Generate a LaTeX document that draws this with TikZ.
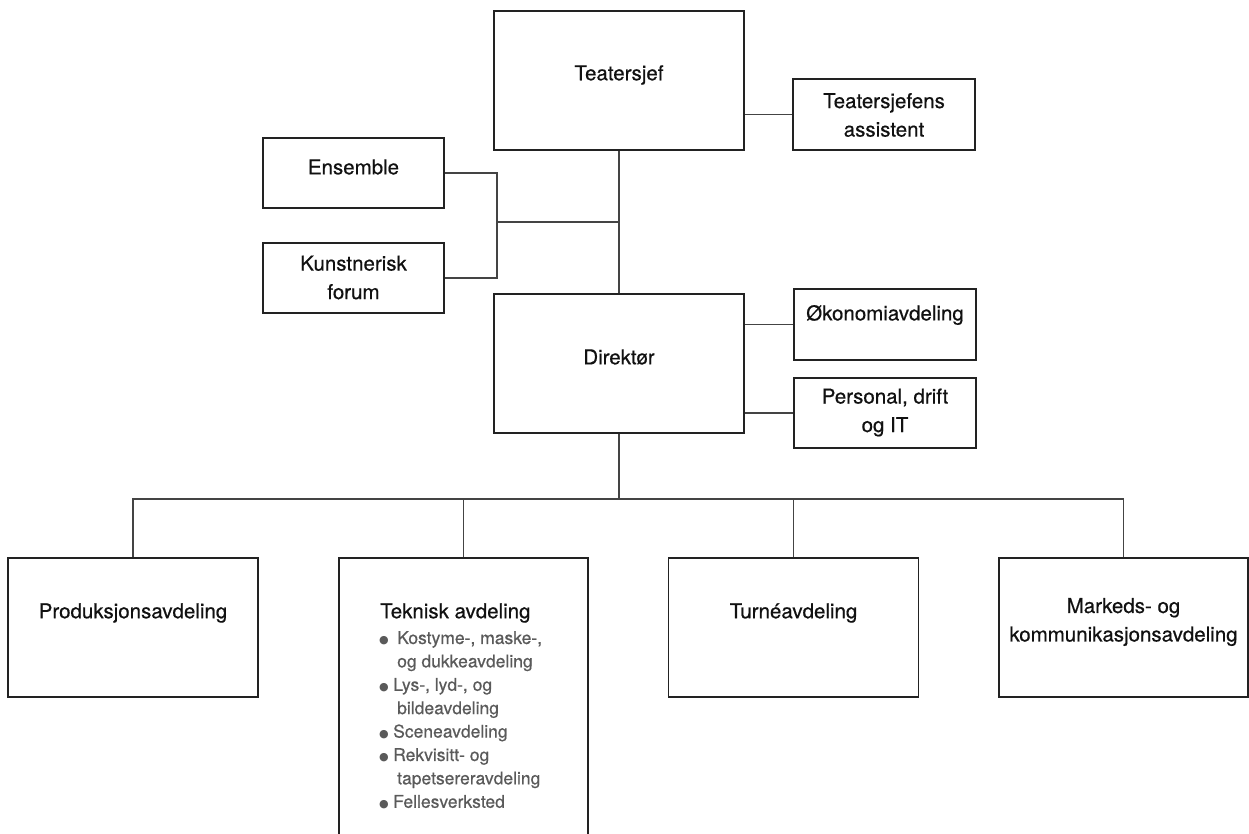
\documentclass[tikz,border=0pt]{standalone}
\usepackage{fontspec}
\setmainfont{TeX Gyre Heros}[FakeBold=0.5]
\newfontfamily\symf{DejaVu Sans}
\definecolor{boxc}{HTML}{222222}
\definecolor{linec}{HTML}{444444}
\definecolor{listc}{HTML}{5A5A5A}
\definecolor{txtc}{HTML}{111111}
\newcommand{\blt}[1]{\makebox[#1][l]{\raisebox{0.5pt}{\symf\fontsize{11}{11}\selectfont ●}}}
\begin{document}
\begin{tikzpicture}[x=1pt,y=-1pt,
  box/.style={draw=boxc,line width=1.8pt,fill=white,inner sep=0pt},
  lbl/.style={inner sep=0pt,text=txtc,font=\fontsize{20.5}{28.5}\selectfont},
  conn/.style={draw=linec,line width=1.5pt}]
\useasboundingbox (0,0) rectangle (1249,834);
% top level
\node[box,minimum width=250pt,minimum height=139pt] (teater) at (619,80.5) {};
\node[lbl] (teaterT) at (619,75) {Teatersjef};
\node[box,minimum width=182pt,minimum height=71pt] (assist) at (884,114.5) {};
\node[lbl,align=center] (assistT) at (884,115) {Teatersjefens\\assistent};
\node[box,minimum width=181pt,minimum height=70pt] (ens) at (353.5,173) {};
\node[lbl] (ensT) at (353.5,167) {Ensemble};
\node[box,minimum width=181pt,minimum height=70pt] (kunst) at (353.5,278) {};
\node[lbl,align=center] (kunstT) at (353.5,277.5) {Kunstnerisk\\forum};
% director level
\node[box,minimum width=250pt,minimum height=139pt] (dir) at (619,363.5) {};
\node[lbl] (dirT) at (619,357) {Direktør};
\node[box,minimum width=182pt,minimum height=71pt] (okon) at (885,324.5) {};
\node[lbl] (okonT) at (885,315) {Økonomiavdeling};
\node[box,minimum width=182pt,minimum height=70pt] (pers) at (885,413) {};
\node[lbl,align=center] (persT) at (885,412.5) {Personal, drift\\og IT};
% departments
\node[box,minimum width=250pt,minimum height=139pt] (prod) at (133,627.5) {};
\node[lbl] (prodT) at (133,613) {Produksjonsavdeling};
\node[box,minimum width=249pt,minimum height=290pt] (tek) at (463.5,703) {};
\node[lbl,anchor=west] (tekT) at (380,613) {Teknisk avdeling};
\node[inner sep=0pt,anchor=north west,align=left,text=listc,
      font=\fontsize{17.5}{23.4}\selectfont] (tekL) at (379,631)
 {\blt{18pt}Kostyme-, maske-,\\
  \hspace*{18pt}og dukkeavdeling\\
  \blt{14pt}Lys-, lyd-, og\\
  \hspace*{18pt}bildeavdeling\\
  \blt{14pt}Sceneavdeling\\
  \blt{14pt}Rekvisitt- og\\
  \hspace*{18pt}tapetsereravdeling\\
  \blt{14pt}Fellesverksted};
\node[box,minimum width=250pt,minimum height=139pt] (turne) at (793.5,627.5) {};
\node[lbl] (turneT) at (793.5,613) {Turnéavdeling};
\node[box,minimum width=249pt,minimum height=139pt] (mark) at (1123.5,627.5) {};
\node[lbl,align=center] (markT) at (1123.5,622) {Markeds- og\\kommunikasjonsavdeling};
% connectors
\coordinate (bj) at (497,222);
\coordinate (bus) at (619,499);
\draw[conn] (assist.west) -- (assist.west -| teater.east);
\draw[conn] (teater.south) -- (dir.north);
\draw[conn] (ens.east) -| (bj) |- (kunst.east);
\draw[conn] (bj) -- (bj -| teater.south);
\draw[conn] (okon.west) -- (okon.west -| dir.east);
\draw[conn] (pers.west) -- (pers.west -| dir.east);
\draw[conn] (dir.south) -- (bus);
\draw[conn] (prod.north) -- (prod.north |- bus) -- (mark.north |- bus) -- (mark.north);
\draw[conn] (tek.north) -- (tek.north |- bus);
\draw[conn] (turne.north) -- (turne.north |- bus);
\end{tikzpicture}
\end{document}
